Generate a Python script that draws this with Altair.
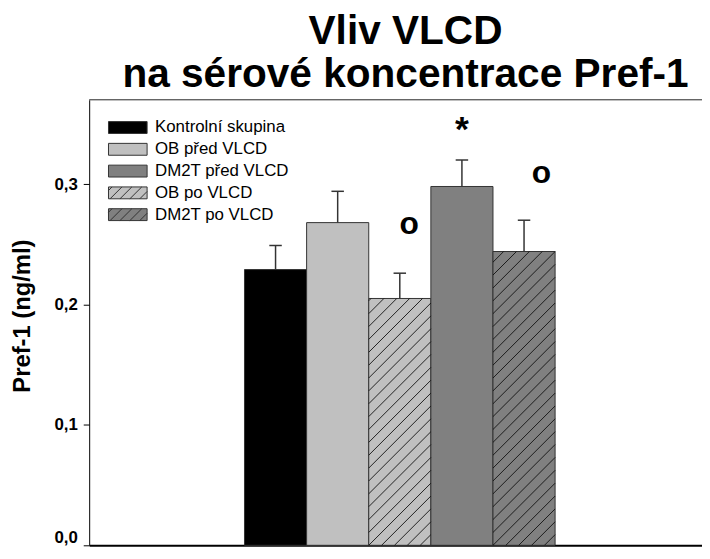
import altair as alt
import pandas as pd

# ---------------- data ----------------
legend_groups = ["Kontrolní skupina", "OB před VLCD", "DM2T před VLCD", "OB po VLCD", "DM2T po VLCD"]
bar_groups = ["Kontrolní skupina", "OB před VLCD", "OB po VLCD", "DM2T před VLCD", "DM2T po VLCD"]
means = [0.229, 0.268, 0.205, 0.298, 0.244]
sems = [0.020, 0.026, 0.021, 0.022, 0.026]
ann_labels = ["o", "*", "o"]
ann_pos = [2.65, 3.5, 4.78]          # position along the bar row (bar units)
ann_values = [0.2664, 0.3445, 0.309]
y_ticks = [0.0, 0.1, 0.2, 0.3]
y_max = 0.37
title_lines = ["Vliv VLCD", "na sérové koncentrace Pref-1"]
y_title = "Pref-1 (ng/ml)"

# ---------------- styles ----------------
fills = {"Kontrolní skupina": "#000000", "OB před VLCD": "#c0c0c0", "DM2T před VLCD": "#808080",
         "OB po VLCD": "#c0c0c0", "DM2T po VLCD": "#808080"}
hatched = {"OB po VLCD", "DM2T po VLCD"}
FONT = "Liberation Sans"
EDGE = "#333333"

W, H = 619, 450
PAD = {"left": 82, "top": 90, "right": 0, "bottom": 1}
UNIT = 62.75          # px per bar
X_LO = -2.5
X_HI = X_LO + W / UNIT
KY = H / y_max
HATCH_SP = 13.0
CAP_HALF = 6.3 / UNIT

# ---------------- tables ----------------
bar_df = pd.DataFrame({
    "grp": bar_groups,
    "x0": list(range(len(bar_groups))),
    "mean": means,
    "sem": sems,
})
bar_df["x1"] = bar_df["x0"] + 1
bar_df["base"] = 0.0

# hatch segments derived from the bar values (45 degree lines clipped to each bar)
hrows = []
for i, g in enumerate(bar_groups):
    if g not in hatched:
        continue
    wb, hb = UNIT, means[i] * KY
    k = int(-wb // HATCH_SP) - 1
    while k * HATCH_SP < hb:
        c = k * HATCH_SP
        u0, u1 = max(0.0, -c), min(wb, hb - c)
        if u1 > u0 + 0.5:
            hrows.append({"hx": i + u0 / UNIT, "hy": (u0 + c) / KY,
                          "hx2": i + u1 / UNIT, "hy2": (u1 + c) / KY})
        k += 1
hatch_df = pd.DataFrame(hrows)

ann_df = pd.DataFrame({"label": ann_labels, "value": ann_values, "xa": ann_pos})

# legend symbol shapes: path units of 6 px (symbol size 144)
hw, hh = 19.5 / 6, 1.0
rect = f"M{-hw:.3f},{-hh}L{hw:.3f},{-hh}L{hw:.3f},{hh}L{-hw:.3f},{hh}Z"
segs = []
step = 10 / 6
a = -hw - 2 * hh + 0.6
while a < hw:
    t0, t1 = max(0.0, -hw - a), min(2 * hh, hw - a)
    if t1 > t0:
        segs.append(f"M{a + t0:.3f},{hh - t0:.3f}L{a + t1:.3f},{hh - t1:.3f}")
    a += step
hatch_path = rect + "".join(segs)
shapes = [hatch_path if g in hatched else rect for g in legend_groups]

# ---------------- scales / axes ----------------
xscale = alt.Scale(domain=[X_LO, X_HI], nice=False, zero=False)
yscale = alt.Scale(domain=[0, y_max], nice=False, zero=False)
fillscale = alt.Scale(domain=legend_groups, range=[fills[g] for g in legend_groups])
xaxis = alt.Axis(labels=False, ticks=False, title=None, grid=False,
                 domainColor="#000000", domainWidth=2)
yaxis = alt.Axis(values=y_ticks, grid=False, title=y_title,
                 labelExpr="replace(format(datum.value, '.1f'), '.', ',')",
                 labelFont=FONT, labelFontSize=17, labelFontWeight="bold", labelColor="#000000",
                 labelPadding=6, labelFlush=True, labelFlushOffset=1,
                 tickSize=6, tickColor="#000000", tickWidth=1,
                 domainColor="#000000", domainWidth=1,
                 titleFont=FONT, titleFontSize=24, titleFontWeight="bold", titleColor="#000000",
                 titleX=-55, titleY=218)

leg = alt.Legend(title=None, orient="none", legendX=30.5, legendY=19.5, padding=0,
                 symbolSize=144, symbolStrokeWidth=1, labelFont=FONT, labelFontSize=17,
                 labelColor="#000000", labelOffset=19, rowPadding=4)


def X(f):
    return alt.X(f, type="quantitative", scale=xscale, axis=xaxis)


def Y(f):
    return alt.Y(f, type="quantitative", scale=yscale, axis=yaxis)


base = alt.Chart(bar_df)

bars = base.mark_rect(stroke=EDGE, strokeWidth=1, binSpacing=0).encode(
    x=X("x0"), x2="x1:Q",
    y=Y("mean"), y2="base:Q",
    fill=alt.Fill("grp:N", scale=fillscale, legend=leg),
)

hatch = alt.Chart(hatch_df).mark_rule(color="#111111", strokeWidth=0.9).encode(
    x=X("hx"), y=Y("hy"), x2="hx2:Q", y2="hy2:Q"
)

calc = base.transform_calculate(
    top="datum.mean + datum.sem",
    xc="datum.x0 + 0.5",
    cl=f"datum.x0 + 0.5 - {CAP_HALF}",
    cr=f"datum.x0 + 0.5 + {CAP_HALF}",
)
err = calc.mark_rule(color=EDGE, strokeWidth=1.5).encode(x=X("xc"), y=Y("mean"), y2="top:Q")
caps = calc.mark_rule(color=EDGE, strokeWidth=1.5).encode(x=X("cl"), x2="cr:Q", y=Y("top"))

star = alt.Chart(ann_df).transform_filter("datum.label == '*'").mark_text(
    font=FONT, fontWeight="bold", fontSize=36, baseline="middle", align="center", color="#000000"
).encode(x=X("xa"), y=Y("value"), text="label:N")
circ = alt.Chart(ann_df).transform_filter("datum.label == 'o'").mark_text(
    font=FONT, fontWeight="bold", fontSize=32, baseline="middle", align="center", color="#000000"
).encode(x=X("xa"), y=Y("value"), text="label:N")

frame_top = alt.Chart(pd.DataFrame({"v": [y_max]})).mark_rule(color="#222222", strokeWidth=1).encode(
    y=Y("v")
)

legend_layer = alt.Chart(pd.DataFrame({"grp": legend_groups})).transform_filter("false").mark_point(
    filled=True, size=144, opacity=1, strokeWidth=1
).encode(
    fill=alt.Fill("grp:N", scale=fillscale, legend=leg),
    shape=alt.Shape("grp:N", scale=alt.Scale(domain=legend_groups, range=shapes), legend=leg),
    stroke=alt.Stroke("grp:N", scale=alt.Scale(domain=legend_groups, range=[EDGE] * len(legend_groups)), legend=leg),
)

chart = alt.layer(bars, hatch, err, caps, star, circ, frame_top, legend_layer).properties(
    width=W, height=H,
    title=alt.TitleParams(text=title_lines, font=FONT, fontSize=41, fontWeight="bold", color="#000000",
                          anchor="middle", frame="group", lineHeight=44, offset=3, dx=10),
    autosize=alt.AutoSizeParams(type="none"),
    padding=PAD,
).configure_view(stroke="transparent", strokeWidth=0)

chart.save("out.html", embed_options={"renderer": "svg", "actions": False})
